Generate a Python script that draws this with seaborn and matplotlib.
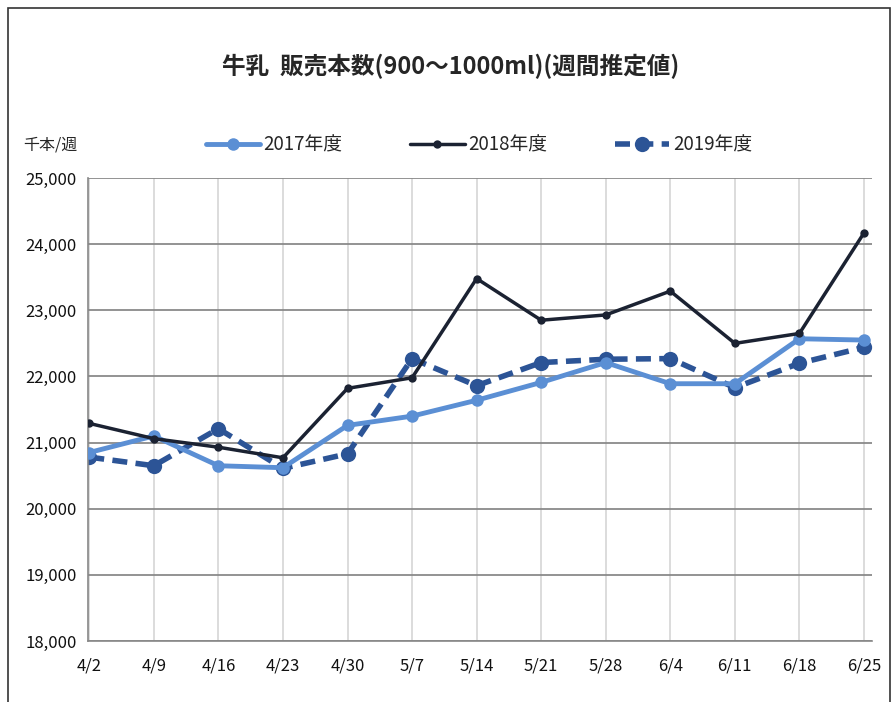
import pandas as pd
import seaborn as sns
import matplotlib.pyplot as plt
from matplotlib.lines import Line2D
from matplotlib.patches import Rectangle

# weekly estimates, thousand bottles per week
weeks = ['4/2', '4/9', '4/16', '4/23', '4/30', '5/7', '5/14',
         '5/21', '5/28', '6/4', '6/11', '6/18', '6/25']
sales_2017 = [20850, 21100, 20650, 20620, 21260, 21400, 21640,
              21910, 22210, 21890, 21890, 22570, 22550]
sales_2018 = [21290, 21060, 20930, 20770, 21820, 21980, 23480,
              22850, 22930, 23290, 22500, 22650, 24170]
sales_2019 = [20780, 20650, 21210, 20610, 20830, 22270, 21860,
              22210, 22260, 22270, 21830, 22200, 22440]
labels = ['2017年度', '2018年度', '2019年度']
y_ticks = [18000, 19000, 20000, 21000, 22000, 23000, 24000, 25000]

sns.set_style('white')
plt.rcParams['font.family'] = ['Noto Sans CJK JP', 'DejaVu Sans']

df = pd.DataFrame({'x': range(len(weeks)), '2017': sales_2017,
                   '2018': sales_2018, '2019': sales_2019})

fig = plt.figure(figsize=(8.95, 7.02), dpi=100)
ax = fig.add_axes([0.0983, 0.0869, 0.8757, 0.6595])

c17 = '#5b8fd4'
c18 = '#1b2232'
c19 = '#2c5496'

sns.lineplot(data=df, x='x', y='2017', ax=ax, color=c17, linewidth=3.5,
             marker='o', markersize=9, markeredgewidth=0, zorder=3)
sns.lineplot(data=df, x='x', y='2018', ax=ax, color=c18, linewidth=2.5,
             marker='o', markersize=6, markeredgewidth=0, zorder=4)
sns.lineplot(data=df, x='x', y='2019', ax=ax, color=c19, linewidth=4,
             linestyle=(0, (2.7, 1.5)), marker='o', markersize=11,
             markeredgewidth=0, zorder=2)

ax.set_xlim(-0.02, 12.12)
ax.set_ylim(18000, 25000)
ax.set_xticks(range(len(weeks)))
ax.set_xticklabels(weeks)
ax.set_yticks(y_ticks)
ax.set_yticklabels([f'{v:,}' for v in y_ticks])
ax.set_xlabel('')
ax.set_ylabel('')
ax.tick_params(axis='both', labelsize=12, colors='#111111', length=4,
               width=1, color='#888888', pad=4)
ax.tick_params(axis='x', pad=8)

for y in y_ticks:
    ax.axhline(y, color='#8a8a8a', linewidth=1.3, zorder=1)
ax.grid(axis='x', color='#d6d6d6', linewidth=1.2)
ax.set_axisbelow(True)
for side in ['top', 'right']:
    ax.spines[side].set_visible(False)
for side in ['left', 'bottom']:
    ax.spines[side].set_color('#888888')
    ax.spines[side].set_linewidth(1.2)

fig.text(0.503, 0.905, '牛乳  販売本数(900～1000ml)(週間推定値)',
         ha='center', va='center', fontsize=17, fontweight='bold')
fig.text(0.026, 0.793, '千本/週', ha='left', va='center', fontsize=11.5)

handles = [
    Line2D([0], [0], color=c17, linewidth=3.5, marker='o', markersize=9,
           markeredgewidth=0),
    Line2D([0], [0], color=c18, linewidth=2.5, marker='o', markersize=6,
           markeredgewidth=0),
    Line2D([0], [0], color=c19, linewidth=4, linestyle=(0, (2.7, 1.5)),
           marker='o', markersize=11, markeredgewidth=0),
]
fig.legend(handles, labels, loc='center', bbox_to_anchor=(0.535, 0.793),
           ncol=3, frameon=False, fontsize=13.5, handlelength=2.9,
           columnspacing=3.6, handletextpad=0.2)

fig.patches.append(Rectangle((0.009, -0.01), 0.985, 0.999,
                             transform=fig.transFigure, fill=False,
                             edgecolor='#333333', linewidth=1.2))

fig.savefig('out.png', dpi=100)
